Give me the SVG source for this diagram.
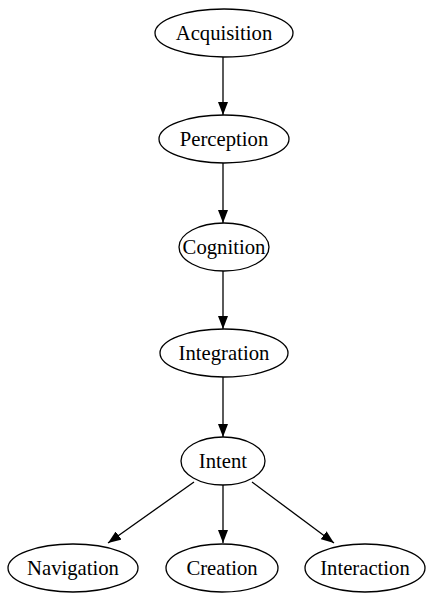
<svg xmlns="http://www.w3.org/2000/svg" width="427" height="597" viewBox="0 0 427 597">
<defs>
<marker id="ah" markerWidth="13" markerHeight="10" refX="13" refY="5" orient="auto" markerUnits="userSpaceOnUse" viewBox="0 0 13 10">
<path d="M0,0 L13,5 L0,10 Z" fill="#000"/>
</marker>
<style>
.n ellipse{fill:#fff;stroke:#000;stroke-width:1.3}
.n text{font-family:"Liberation Serif","Times New Roman",serif;font-size:20.7px;text-anchor:middle;dominant-baseline:central;fill:#000}
.e line{stroke:#000;stroke-width:1.3;marker-end:url(#ah)}
</style>
</defs>
<rect width="427" height="597" fill="#fff"/>
<g class="e" id="edges">
<line x1="223" y1="57" x2="223" y2="115"/>
<line x1="223" y1="163" x2="223" y2="223"/>
<line x1="223" y1="271" x2="223" y2="329"/>
<line x1="223" y1="377" x2="223" y2="437"/>
<line x1="194" y1="482" x2="108" y2="543"/>
<line x1="223" y1="485" x2="223" y2="543"/>
<line x1="252" y1="482" x2="334" y2="543"/>
</g>
<g class="n" id="acquisition"><ellipse cx="224" cy="33" rx="69" ry="24"/><text x="224" y="33">Acquisition</text></g>
<g class="n" id="perception"><ellipse cx="224" cy="139" rx="65" ry="24"/><text x="224" y="139">Perception</text></g>
<g class="n" id="cognition"><ellipse cx="224" cy="247" rx="45" ry="24"/><text x="224" y="247">Cognition</text></g>
<g class="n" id="integration"><ellipse cx="224" cy="353" rx="64" ry="24"/><text x="224" y="353">Integration</text></g>
<g class="n" id="intent"><ellipse cx="223" cy="461" rx="42" ry="24"/><text x="223" y="461">Intent</text></g>
<g class="n" id="navigation"><ellipse cx="73" cy="568" rx="65" ry="24"/><text x="73" y="568">Navigation</text></g>
<g class="n" id="creation"><ellipse cx="222" cy="568" rx="56" ry="24"/><text x="222" y="568">Creation</text></g>
<g class="n" id="interaction"><ellipse cx="365" cy="568" rx="60" ry="24"/><text x="365" y="568">Interaction</text></g>
</svg>
